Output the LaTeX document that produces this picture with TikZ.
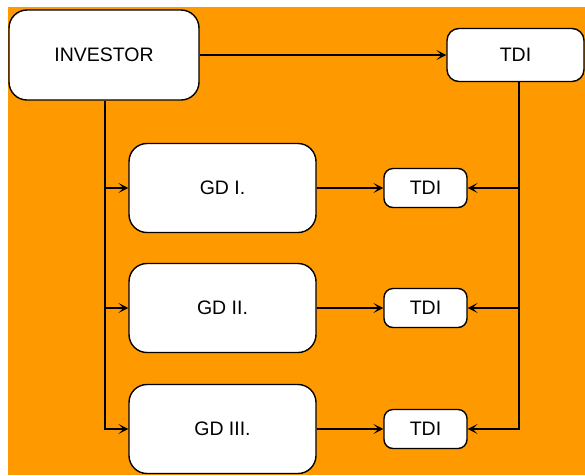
\documentclass[tikz,border=0pt]{standalone}
\usepackage{fontspec}
\setmainfont{Liberation Sans}
\usetikzlibrary{arrows.meta,calc}
\definecolor{bgorange}{RGB}{255,153,0}
\begin{document}
\begin{tikzpicture}[x=1pt,y=-1pt,
  box/.style={draw=black,line width=1.4pt,fill=white,inner sep=0pt,
    font=\fontsize{19.5}{22}\selectfont},
  bigbox/.style={box,minimum width=190pt,minimum height=90pt,rounded corners=18pt},
  gdbox/.style={box,minimum width=187pt,minimum height=89pt,rounded corners=18pt},
  topbox/.style={box,minimum width=137pt,minimum height=53pt,rounded corners=12pt},
  tdibox/.style={box,minimum width=83pt,minimum height=39pt,rounded corners=9pt},
  link/.style={draw=black,line width=1.8pt,-{Stealth[length=10pt,width=10pt,inset=5pt]}}]
  \useasboundingbox (0,0) rectangle (585,475);
  \fill[bgorange] (8,7) rectangle (585,475);

  % boxes
  \node[bigbox] (inv) at (104,55) {INVESTOR};
  \node[topbox] (tdi) at (515.5,55) {TDI};
  \node[gdbox] (gd1) at (222.5,188) {GD I.};
  \node[gdbox] (gd2) at (222.5,308) {GD II.};
  \node[gdbox] (gd3) at (222.5,429) {GD III.};
  \node[tdibox] (t1) at (425.5,188) {TDI};
  \node[tdibox] (t2) at (425.5,308) {TDI};
  \node[tdibox] (t3) at (425.5,429) {TDI};

  % bus lines
  \coordinate (lbus) at (105,0);
  \coordinate (rbus) at (519,0);

  % connectors
  \draw[link] (inv) -- (tdi);
  \draw[link] (inv.south -| lbus) |- (gd1.west);
  \draw[link] (inv.south -| lbus) |- (gd2.west);
  \draw[link] (inv.south -| lbus) |- (gd3.west);
  \draw[link] (tdi.south -| rbus) |- (t1.east);
  \draw[link] (tdi.south -| rbus) |- (t2.east);
  \draw[link] (tdi.south -| rbus) |- (t3.east);
  \draw[link] (gd1) -- (t1);
  \draw[link] (gd2) -- (t2);
  \draw[link] (gd3) -- (t3);
\end{tikzpicture}
\end{document}
